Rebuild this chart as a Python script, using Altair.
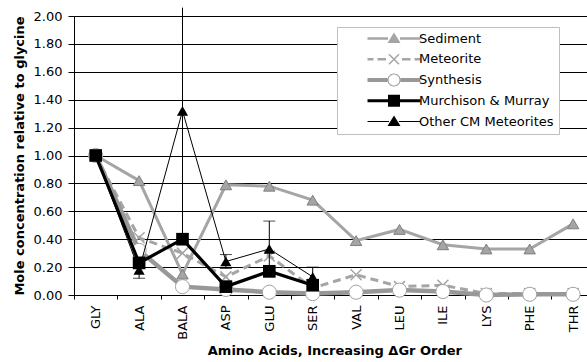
import altair as alt
import pandas as pd

# ---------------- data ----------------
categories = ["GLY", "ALA", "BALA", "ASP", "GLU", "SER", "VAL", "LEU", "ILE", "LYS", "PHE", "THR"]
sediment = [1.00, 0.82, 0.15, 0.79, 0.78, 0.68, 0.39, 0.47, 0.36, 0.33, 0.33, 0.51]
meteorite = [1.00, 0.41, 0.30, 0.13, 0.28, 0.05, 0.145, 0.06, 0.07, 0.01, 0.01, 0.01]
synthesis = [1.00, 0.32, 0.06, 0.04, 0.02, 0.01, 0.02, 0.035, 0.025, 0.00, 0.005, 0.005]
murchison = [1.00, 0.23, 0.40, 0.06, 0.17, 0.07]
other_cm = [1.00, 0.18, 1.32, 0.24, 0.33, 0.13]
other_cm_low = [1.00, 0.12, 0.40, 0.19, 0.13, 0.06]
other_cm_high = [1.00, 0.24, 2.06, 0.29, 0.53, 0.20]
series_names = ["Sediment", "Meteorite", "Synthesis", "Murchison & Murray", "Other CM Meteorites"]
y_ticks = [0.0, 0.2, 0.4, 0.6, 0.8, 1.0, 1.2, 1.4, 1.6, 1.8, 2.0]

FONT = "DejaVu Sans"
GRAY = "#a5a5a5"
GRAY2 = "#989898"


def frame(values, name):
    return pd.DataFrame({
        "aa": categories[:len(values)],
        "v": values,
        "i": list(range(len(values))),
        "series": name,
    })


X_SCALE = alt.Scale(type="band", domain=categories, range=[0, 520.8], paddingInner=0, paddingOuter=0)
X_AXIS = alt.Axis(title="Amino Acids, Increasing \u0394Gr Order", labelAngle=-90, tickBand="extent",
                  tickSize=4, labelPadding=6, titlePadding=5, grid=False)
Y_SCALE = alt.Scale(domain=[0, 2], nice=False, zero=True)
Y_AXIS = alt.Axis(title="Mole concentration relative to glycine", values=y_ticks, format=".2f",
                  tickSize=6, labelPadding=6, titlePadding=7, grid=True)

X = alt.X("aa:N", scale=X_SCALE, axis=X_AXIS)


def yenc(field):
    return alt.Y(field, scale=Y_SCALE, axis=Y_AXIS)


Y = yenc("v:Q")
ORDER = alt.Order("i:Q")


def line_layer(df, color, width, dash=None):
    kw = dict(color=color, strokeWidth=width)
    if dash:
        kw["strokeDash"] = dash
    return alt.Chart(df).mark_line(**kw).encode(x=X, y=Y, order=ORDER)


def point_layer(df, **kw):
    return alt.Chart(df).mark_point(**kw).encode(x=X, y=Y)


sed_df = frame(sediment, "Sediment")
met_df = frame(meteorite, "Meteorite")
syn_df = frame(synthesis, "Synthesis")
mur_df = frame(murchison, "Murchison & Murray")
oth_df = frame(other_cm, "Other CM Meteorites")
err_df = pd.DataFrame({"aa": categories[:len(other_cm)], "lo": other_cm_low, "hi": other_cm_high}).iloc[1:]

X_PATH = "M-1,-1L1,1M-1,1L1,-1"

layers = [
    line_layer(sed_df, GRAY, 3),
    point_layer(sed_df, shape="triangle-up", filled=True, fill=GRAY, stroke="#7f7f7f", strokeWidth=1, size=130, opacity=1),
    line_layer(met_df, GRAY, 3, [8, 5]),
    point_layer(met_df, shape=X_PATH, filled=False, stroke=GRAY, strokeWidth=1.5, size=121, opacity=1),
    line_layer(syn_df, GRAY2, 4.5),
    point_layer(syn_df, shape="circle", filled=True, fill="white", stroke="#a0a0a0", strokeWidth=1, size=200, opacity=1),
    line_layer(mur_df, "black", 3.2),
    point_layer(mur_df, shape="square", filled=True, fill="black", strokeWidth=0, size=160, opacity=1),
    alt.Chart(err_df).mark_rule(color="black", strokeWidth=1).encode(x=X, y=yenc("lo:Q"), y2="hi:Q"),
    alt.Chart(err_df).mark_tick(color="black", thickness=1, size=12).encode(x=X, y=yenc("lo:Q")),
    alt.Chart(err_df).mark_tick(color="black", thickness=1, size=12, clip=True).encode(x=X, y=yenc("hi:Q")),
    line_layer(oth_df, "black", 1),
    point_layer(oth_df, shape="triangle-up", filled=True, fill="black", strokeWidth=0, size=125, opacity=1),
]

# legend symbols: line + marker drawn as filled paths, in pixel units (symbolSize 4 -> r = 1)
TRI = "M0,-6L6.5,4.5L-6.5,4.5Z"
legend_paths = [
    "M-26.5,-1.25H-6V1.25H-26.5Z M6,-1.25H26.5V1.25H6Z " + TRI,
    "M-26.5,-1.25H-20.5V1.25H-26.5Z M-16.5,-1.25H-8V1.25H-16.5Z M8,-1.25H16.5V1.25H8Z M20.5,-1.25H26.5V1.25H20.5Z "
    "M-5.53,-4.47L4.47,5.53L5.53,4.47L-4.47,-5.53Z M-4.47,5.53L5.53,-4.47L4.47,-5.53L-5.53,4.47Z",
    "M-26.5,-2H-6.5V2H-26.5Z M6.5,-2H26.5V2H6.5Z "
    "M6.5,0A6.5,6.5 0 1,1 -6.5,0A6.5,6.5 0 1,1 6.5,0Z M5.5,0A5.5,5.5 0 1,0 -5.5,0A5.5,5.5 0 1,0 5.5,0Z",
    "M-26.5,-1.6H-6V1.6H-26.5Z M6,-1.6H26.5V1.6H6Z M-6,-6H6V6H-6Z",
    "M-26.5,-0.6H-5V0.6H-26.5Z M5,-0.6H26.5V0.6H5Z " + TRI,
]
legend_fills = [GRAY, GRAY, GRAY2, "black", "black"]

leg_df = pd.DataFrame({
    "aa": ["GLY"] * 5,
    "v": [sediment[0], meteorite[0], synthesis[0], murchison[0], other_cm[0]],
    "series": series_names,
})


def make_legend():
    return alt.Legend(
        orient="none", legendX=263, legendY=11, title=None,
        padding=5, rowPadding=6.75, symbolSize=4, symbolOffset=45.5, labelOffset=18.5,
        symbolStrokeWidth=0, symbolOpacity=1,
        strokeColor="#bfbfbf", fillColor="white",
        labelFont=FONT, labelFontSize=13, labelColor="black",
        labelExpr="datum.label + '          '",
    )


legend_layer = alt.Chart(leg_df).mark_point(filled=True, opacity=0).encode(
    x=X, y=Y,
    shape=alt.Shape("series:N", scale=alt.Scale(domain=series_names, range=legend_paths), legend=make_legend()),
    fill=alt.Fill("series:N", scale=alt.Scale(domain=series_names, range=legend_fills), legend=make_legend()),
)

chart = alt.layer(*layers, legend_layer).properties(
    width=513, height=279,
    padding={"left": 74, "top": 16, "right": 0, "bottom": 67},
    autosize=alt.AutoSizeParams(type="none"),
    background="white",
).configure_view(stroke=None).configure_axis(
    labelFont=FONT, labelFontSize=13, labelColor="black",
    titleFont=FONT, titleFontSize=13, titleFontWeight="bold", titleColor="black",
    domainColor="black", tickColor="black", gridColor="black", gridWidth=1,
)

chart.save("out.html", embed_options={"renderer": "svg", "actions": False})
